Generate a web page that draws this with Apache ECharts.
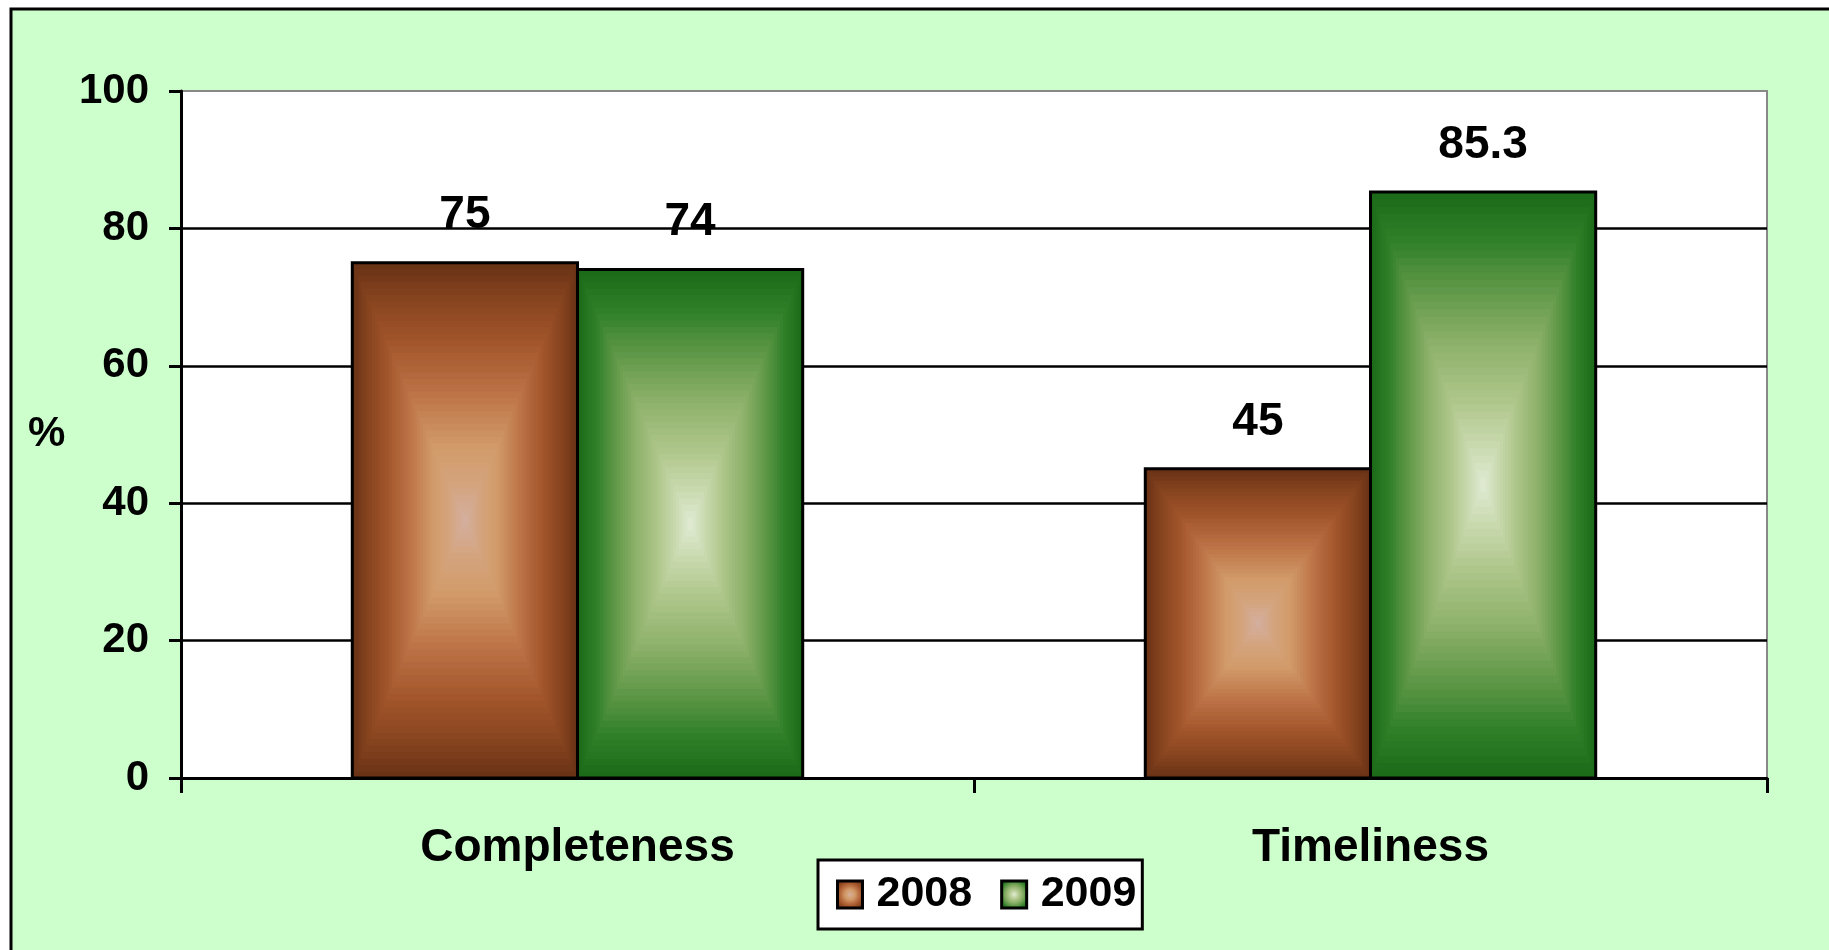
<!DOCTYPE html>
<html><head><meta charset="utf-8">
<script src="https://cdn.jsdelivr.net/npm/echarts@6/dist/echarts.min.js"></script>
<style>html,body{margin:0;padding:0;background:#fff}#c{width:1829px;height:950px}</style>
</head><body><div id="c"></div>
<script>
// ---- data ----
const categories = ['Completeness', 'Timeliness'];
const seriesNames = ['2008', '2009'];
const values2008 = [75, 45];
const values2009 = [74, 85.3];
const yTickValues = [0, 20, 40, 60, 80, 100];
const yAxisName = '%';

// ---- styles ----
const stops2008 = [[0,'#6B3316'],[0.15,'#8A4620'],[0.3,'#A3562B'],[0.5,'#BD7447'],[0.7,'#D19A68'],[0.85,'#D4A47E'],[1,'#D4B0A2']];
const stops2009 = [[0,'#1C6B18'],[0.15,'#2F7F28'],[0.3,'#5A9544'],[0.5,'#8CB069'],[0.7,'#AEC68A'],[0.85,'#C8D9AE'],[1,'#E2ECD6']];
const FONT = "'Liberation Sans', Arial, sans-serif";

function hex(h){return [parseInt(h.slice(1,3),16),parseInt(h.slice(3,5),16),parseInt(h.slice(5,7),16)];}
function colorAt(stops,t){
  for(let i=1;i<stops.length;i++){
    if(t<=stops[i][0]){
      const a=stops[i-1],b=stops[i];const f=(t-a[0])/(b[0]-a[0]);
      const ca=hex(a[1]),cb=hex(b[1]);
      return 'rgb('+ca.map((v,k)=>Math.round(v+(cb[k]-v)*f)).join(',')+')';
    }
  }
  return stops[stops.length-1][1];
}
function radial(stops){
  return {type:'radial',x:0.5,y:0.5,r:0.6,colorStops:stops.slice().reverse().map(s=>({offset:1-s[0],color:s[1]}))};
}

function makeRender(seriesIdx, stops){
  return function(params, api){
    const cat = api.value(0), val = api.value(1);
    const base = api.coord([cat, 0]);
    const top = api.coord([cat, val]);
    const band = api.size([1, 0])[0];
    const w = band * 0.284;
    const x0 = base[0] + (seriesIdx === 0 ? -w : 0);
    const y0 = top[1];
    const h = base[1] - top[1];
    const N = 40;
    const children = [];
    for(let i=0;i<N;i++){
      const t=i/N, ix=t*w/2, iy=t*h/2;
      children.push({type:'rect',shape:{x:x0+ix,y:y0+iy,width:w-2*ix,height:h-2*iy},style:{fill:colorAt(stops,t)}});
    }
    children.push({type:'rect',shape:{x:x0,y:y0,width:w,height:h},style:{fill:'none',stroke:'#000',lineWidth:3}});
    children.push({type:'text',x:x0+w/2,y:y0-24,style:{text:String(val),align:'center',verticalAlign:'bottom',fill:'#000',font:'bold 46px '+FONT}});
    return {type:'group',children};
  };
}

const chart = echarts.init(document.getElementById('c'), null, {renderer:'canvas'});
chart.setOption({
  animation:false,
  backgroundColor:'#ffffff',
  graphic:[
    {type:'rect',z:-100,shape:{x:11,y:9,width:1900,height:1000},style:{fill:'#CCFFCC',stroke:'#000',lineWidth:3}},
    {type:'text',z:10,left:28,top:413,style:{text:yAxisName,fill:'#000',font:'bold 42px '+FONT}}
  ],
  grid:{left:181,right:62,top:91,bottom:172,show:true,backgroundColor:'#fff',borderColor:'#888',borderWidth:2},
  legend:{
    left:818,top:860,orient:'horizontal',
    backgroundColor:'#fff',borderColor:'#000',borderWidth:3,
    padding:[13,6,13,18],itemGap:28,itemWidth:25,itemHeight:27,
    textStyle:{fontFamily:FONT,fontWeight:'bold',fontSize:43,color:'#000',padding:[0,0,0,9]},
    data:[
      {name:seriesNames[0],icon:'rect',itemStyle:{color:radial(stops2008),borderColor:'#000',borderWidth:3}},
      {name:seriesNames[1],icon:'rect',itemStyle:{color:radial(stops2009),borderColor:'#000',borderWidth:3}}
    ]
  },
  xAxis:{
    type:'category',data:categories,
    axisLine:{show:true,lineStyle:{color:'#000',width:3}},
    axisTick:{show:true,alignWithLabel:false,length:15,lineStyle:{color:'#000',width:3}},
    axisLabel:{margin:47,fontFamily:FONT,fontWeight:'bold',fontSize:46,color:'#000'},
    splitLine:{show:false}
  },
  yAxis:{
    type:'value',min:yTickValues[0],max:yTickValues[yTickValues.length-1],interval:yTickValues[1]-yTickValues[0],
    axisLine:{show:true,lineStyle:{color:'#000',width:3}},
    axisTick:{show:true,length:12,lineStyle:{color:'#000',width:3}},
    axisLabel:{margin:32,fontFamily:FONT,fontWeight:'bold',fontSize:42,color:'#000'},
    splitLine:{show:true,showMaxLine:false,showMinLine:false,lineStyle:{color:'#000',width:2.5}}
  },
  series:[
    {name:seriesNames[0],type:'custom',renderItem:makeRender(0,stops2008),encode:{x:0,y:1},itemStyle:{color:'#A3562B'},data:values2008.map((v,i)=>[i,v])},
    {name:seriesNames[1],type:'custom',renderItem:makeRender(1,stops2009),encode:{x:0,y:1},itemStyle:{color:'#5A9544'},data:values2009.map((v,i)=>[i,v])}
  ]
});
</script></body></html>
